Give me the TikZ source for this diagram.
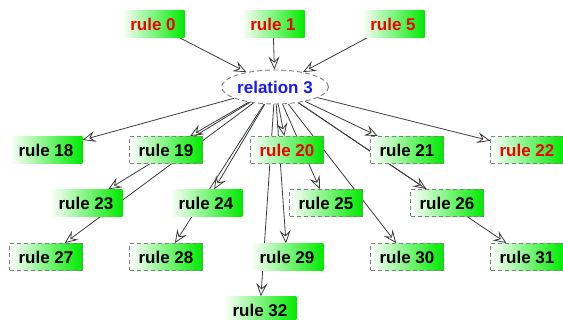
\documentclass[tikz,border=0pt]{standalone}
\usepackage{fontspec}
\setmainfont{Liberation Sans}
\usetikzlibrary{arrows.meta, shapes.geometric, backgrounds}
\definecolor{rulegreen}{RGB}{0,235,0}
\definecolor{rulered}{RGB}{240,0,0}
\definecolor{relblue}{RGB}{25,25,240}
\definecolor{edgegray}{RGB}{60,60,60}
\definecolor{framegray}{RGB}{130,130,130}

\begin{document}
\begin{tikzpicture}[x=1pt, y=-1pt, >={Stealth[length=13pt, width=11pt, inset=5pt, fill=white]},
	rulebox/.style={left color=white, right color=rulegreen, minimum height=27pt, inner xsep=9pt, font=\fontsize{17}{20}\selectfont\bfseries},
	framed/.style={draw=framegray, dash pattern=on 4pt off 3pt, line width=0.9pt},
	relation/.style={ellipse, draw=framegray, fill=white, dash pattern=on 5pt off 3pt, line width=0.9pt, minimum width=104pt, minimum height=34pt, inner sep=0pt, text=relblue, font=\fontsize{17}{20}\selectfont\bfseries},
	edge/.style={->, edgegray, line width=0.8pt}]

	\useasboundingbox (0,0) rectangle (563,320);

	\node[rulebox, text=rulered] (r0) at (153,24) {rule 0};
	\node[rulebox, text=rulered] (r1) at (273,24) {rule 1};
	\node[rulebox, text=rulered] (r5) at (393,24) {rule 5};

	\node[relation] (rel3) at (275,87) {relation 3};

	\node[rulebox] (r18) at (46,150) {rule 18};
	\node[rulebox, framed] (r19) at (166,150) {rule 19};
	\node[rulebox, framed, text=rulered] (r20) at (287,150) {rule 20};
	\node[rulebox, framed] (r21) at (407,150) {rule 21};
	\node[rulebox, framed, text=rulered] (r22) at (527,150) {rule 22};

	\node[rulebox] (r23) at (86,203) {rule 23};
	\node[rulebox] (r24) at (206,203) {rule 24};
	\node[rulebox, framed] (r25) at (326,203) {rule 25};
	\node[rulebox, framed] (r26) at (447,203) {rule 26};

	\node[rulebox, framed] (r27) at (46,257) {rule 27};
	\node[rulebox, framed] (r28) at (166,257) {rule 28};
	\node[rulebox] (r29) at (287,257) {rule 29};
	\node[rulebox, framed] (r30) at (407,257) {rule 30};
	\node[rulebox, framed] (r31) at (527,257) {rule 31};

	\node[rulebox] (r32) at (260,310) {rule 32};

	\begin{scope}[on background layer]
		\draw[edge] (r0) -- (rel3);
		\draw[edge] (r1) -- (rel3);
		\draw[edge] (r5) -- (rel3);

		\draw[edge] (rel3) -- (r18);
		\draw[edge] (rel3) -- (r19);
		\draw[edge] (rel3) -- (r20);
		\draw[edge] (rel3) -- (r21);
		\draw[edge] (rel3) -- (r22);
		\draw[edge] (rel3) -- (r23);
		\draw[edge] (rel3) -- (r24);
		\draw[edge] (rel3) -- (r25);
		\draw[edge] (rel3) -- (r26);
		\draw[edge] (rel3) -- (r27);
		\draw[edge] (rel3) -- (r28);
		\draw[edge] (rel3) -- (r29);
		\draw[edge] (rel3) -- (r30);
		\draw[edge] (rel3) -- (r31);
		\draw[edge] (rel3) -- (r32);
	\end{scope}

\end{tikzpicture}
\end{document}
